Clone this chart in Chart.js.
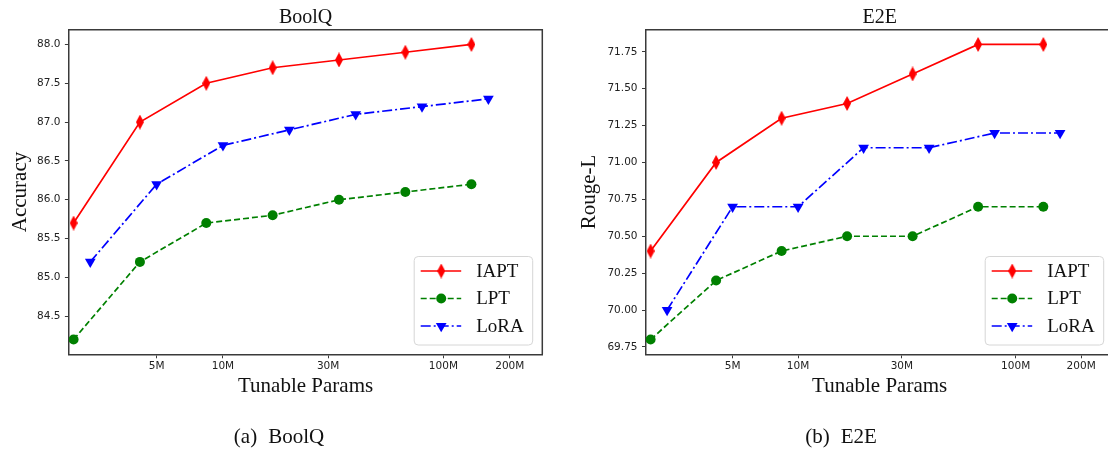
<!DOCTYPE html>
<html>
<head>
<meta charset="utf-8">
<title>BoolQ / E2E</title>
<script src="https://cdn.jsdelivr.net/npm/chart.js@4.4.1/dist/chart.umd.min.js"></script>
<style>
    html, body { margin: 0; padding: 0; background: #fff; }
    body { width: 1108px; height: 452px; position: relative; overflow: hidden; }
    canvas { position: absolute; top: 0; }
    #boolqChart { left: 0; }
    #e2eChart { left: 555px; }
    .caption {
        position: absolute;
        top: 424px;
        font: 21px "Liberation Serif", "Times New Roman", serif;
        color: #111;
        white-space: nowrap;
        transform: translateX(-50%);
    }
    .caption span + span { margin-left: 11px; }
</style>
</head>
<body>
<canvas id="boolqChart" width="555" height="452"></canvas>
<canvas id="e2eChart" width="575" height="452"></canvas>
<div class="caption" style="left:279px"><span>(a)</span><span>BoolQ</span></div>
<div class="caption" style="left:841px"><span>(b)</span><span>E2E</span></div>

<script>
// Data (tunable params)
const iaptParams = [2.1e6, 4.2e6, 8.4e6, 16.8e6, 33.6e6, 67.2e6, 134e6];
const lptParams = [2.1e6, 4.2e6, 8.4e6, 16.8e6, 33.6e6, 67.2e6, 134e6];
const loraParams = [2.5e6, 5e6, 10e6, 20e6, 40e6, 80e6, 160e6];

const boolqIAPT = [85.7, 87.0, 87.5, 87.7, 87.8, 87.9, 88.0];
const boolqLPT = [84.2, 85.2, 85.7, 85.8, 86.0, 86.1, 86.2];
const boolqLoRA = [85.2, 86.2, 86.7, 86.9, 87.1, 87.2, 87.3];

const e2eIAPT = [70.4, 71.0, 71.3, 71.4, 71.6, 71.8, 71.8];
const e2eLPT = [69.8, 70.2, 70.4, 70.5, 70.5, 70.7, 70.7];
const e2eLoRA = [70.0, 70.7, 70.7, 71.1, 71.1, 71.2, 71.2];

const xTickValues = [5e6, 1e7, 3e7, 1e8, 2e8];
const xTickLabels = ['5M', '10M', '30M', '100M', '200M'];
const boolqTicks = [84.5, 85.0, 85.5, 86.0, 86.5, 87.0, 87.5, 88.0];
const e2eTicks = [69.75, 70.0, 70.25, 70.5, 70.75, 71.0, 71.25, 71.5, 71.75];

const SERIF = '"Liberation Serif", "Times New Roman", serif';
const TICK_FONT = '"DejaVu Sans", sans-serif';
const AXIS_COLOR = '#3a3a3a';

// thin diamond marker ('d' in matplotlib)
function makeDiamond(color, w, h) {
    const c = document.createElement('canvas');
    c.width = w;
    c.height = h;
    const g = c.getContext('2d');
    g.fillStyle = color;
    g.beginPath();
    g.moveTo(w / 2, 0);
    g.lineTo(w, h / 2);
    g.lineTo(w / 2, h);
    g.lineTo(0, h / 2);
    g.closePath();
    g.fill();
    return c;
}
const redDiamond = makeDiamond('#ff0000', 8, 15);

function toPoints(xs, ys) {
    return xs.map((x, i) => ({ x: x, y: ys[i] }));
}

function makeDatasets(iapt, lpt, lora) {
    return [
        {
            label: 'IAPT', data: toPoints(iaptParams, iapt),
            borderColor: '#ff0000', backgroundColor: '#ff0000', borderWidth: 1.7,
            pointStyle: redDiamond, pointRadius: 7, marker: 'diamond'
        },
        {
            label: 'LPT', data: toPoints(lptParams, lpt),
            borderColor: '#008000', backgroundColor: '#008000', borderWidth: 1.7,
            borderDash: [6, 3], pointStyle: 'circle', pointRadius: 5, pointBorderWidth: 0, marker: 'circle'
        },
        {
            label: 'LoRA', data: toPoints(loraParams, lora),
            borderColor: '#0000ff', backgroundColor: '#0000ff', borderWidth: 1.7,
            borderDash: [10, 3, 2, 3], pointStyle: 'triangle', pointRotation: 180,
            pointRadius: 6.2, pointBorderWidth: 0, marker: 'triangle'
        }
    ];
}

function drawMarker(ctx, ds, x, y) {
    ctx.fillStyle = ds.backgroundColor;
    if (ds.marker === 'diamond') {
        ctx.drawImage(ds.pointStyle, x - ds.pointStyle.width / 2, y - ds.pointStyle.height / 2);
    } else if (ds.marker === 'circle') {
        ctx.beginPath();
        ctx.arc(x, y, ds.pointRadius, 0, Math.PI * 2);
        ctx.fill();
    } else {
        const r = ds.pointRadius;
        ctx.beginPath();
        ctx.moveTo(x, y + r);
        ctx.lineTo(x - r * Math.sin(Math.PI / 3), y - r / 2);
        ctx.lineTo(x + r * Math.sin(Math.PI / 3), y - r / 2);
        ctx.closePath();
        ctx.fill();
    }
}

// box frame + title + matplotlib-like legend
const figurePlugin = {
    id: 'figureBits',
    afterDraw(chart) {
        const { ctx, chartArea } = chart;
        const opts = chart.options.plugins.figureBits;
        ctx.save();

        // top and right spines
        ctx.strokeStyle = AXIS_COLOR;
        ctx.lineWidth = 1.5;
        ctx.beginPath();
        ctx.moveTo(chartArea.left, chartArea.top);
        ctx.lineTo(chartArea.right, chartArea.top);
        ctx.lineTo(chartArea.right, chartArea.bottom);
        ctx.stroke();

        // title
        ctx.fillStyle = '#111';
        ctx.font = '20px ' + SERIF;
        ctx.textAlign = 'center';
        ctx.textBaseline = 'alphabetic';
        ctx.fillText(opts.title, (chartArea.left + chartArea.right) / 2, 22.5);

        // legend
        const w = 118.5, h = 88.5;
        const x0 = chartArea.right - 9.6 - w;
        const y0 = chartArea.bottom - 9.3 - h;
        ctx.beginPath();
        ctx.roundRect(x0, y0, w, h, 4);
        ctx.fillStyle = 'rgba(255,255,255,0.8)';
        ctx.fill();
        ctx.strokeStyle = '#d6d6d6';
        ctx.lineWidth = 1;
        ctx.stroke();

        chart.data.datasets.forEach((ds, i) => {
            const cy = y0 + 14.5 + i * 27.5;
            ctx.strokeStyle = ds.borderColor;
            ctx.lineWidth = ds.borderWidth;
            ctx.setLineDash(ds.borderDash || []);
            ctx.beginPath();
            ctx.moveTo(x0 + 6.5, cy);
            ctx.lineTo(x0 + 47, cy);
            ctx.stroke();
            ctx.setLineDash([]);
            drawMarker(ctx, ds, x0 + 27, cy);
            ctx.fillStyle = '#111';
            ctx.font = '19px ' + SERIF;
            ctx.textAlign = 'left';
            ctx.textBaseline = 'middle';
            ctx.fillText(ds.label, x0 + 62, cy + 1);
        });
        ctx.restore();
    }
};

function buildChart(canvasId, title, yTitle, datasets, yMin, yMax, yTicks, decimals, layout) {
    const ctx = document.getElementById(canvasId);
    return new Chart(ctx, {
        type: 'line',
        data: { datasets: datasets },
        options: {
            responsive: false,
            animation: false,
            events: [],
            layout: { padding: { top: layout.top, right: layout.right, left: 0, bottom: 0 } },
            plugins: {
                legend: { display: false },
                tooltip: { enabled: false },
                figureBits: { title: title }
            },
            scales: {
                x: {
                    type: 'logarithmic',
                    min: 2.0e6,
                    max: 2.81e8,
                    bounds: 'data',
                    afterBuildTicks: axis => { axis.ticks = xTickValues.map(v => ({ value: v })); },
                    afterFit: axis => { axis.height = layout.xHeight; },
                    ticks: {
                        autoSkip: false,
                        maxRotation: 0,
                        padding: 2,
                        color: '#222',
                        font: { family: TICK_FONT, size: 10.5 },
                        callback: (value) => {
                            const idx = xTickValues.indexOf(value);
                            return idx >= 0 ? xTickLabels[idx] : '';
                        }
                    },
                    grid: { display: true, drawOnChartArea: false, drawTicks: true, tickLength: 4, color: AXIS_COLOR },
                    border: { display: true, color: AXIS_COLOR, width: 1.5 },
                    title: {
                        display: true,
                        text: 'Tunable Params',
                        color: '#111',
                        font: { family: SERIF, size: 21 },
                        padding: { top: 0, bottom: 53.4 }
                    }
                },
                y: {
                    type: 'linear',
                    min: yMin,
                    max: yMax,
                    bounds: 'data',
                    afterBuildTicks: axis => { axis.ticks = yTicks.map(v => ({ value: v })); },
                    afterFit: axis => { axis.width = layout.yWidth; },
                    ticks: {
                        padding: 4.5,
                        color: '#222',
                        font: { family: TICK_FONT, size: 10.5 },
                        callback: value => Number(value).toFixed(decimals)
                    },
                    grid: { display: true, drawOnChartArea: false, drawTicks: true, tickLength: 4, color: AXIS_COLOR },
                    border: { display: true, color: AXIS_COLOR, width: 1.5 },
                    title: {
                        display: true,
                        text: yTitle,
                        color: '#111',
                        font: { family: SERIF, size: 21 },
                        padding: { top: layout.yTitlePad, bottom: 0 }
                    }
                }
            }
        },
        plugins: [figurePlugin]
    });
}

buildChart('boolqChart', 'BoolQ', 'Accuracy',
    makeDatasets(boolqIAPT, boolqLPT, boolqLoRA),
    84.01, 88.19, boolqTicks, 1,
    { top: 29.7, right: 12.7, xHeight: 97.7, yWidth: 68.9, yTitlePad: 7.4 });

buildChart('e2eChart', 'E2E', 'Rouge-L',
    makeDatasets(e2eIAPT, e2eLPT, e2eLoRA),
    69.7, 71.9, e2eTicks, 2,
    { top: 29.7, right: 16.7, xHeight: 97.7, yWidth: 91, yTitlePad: 21.4 });
</script>
</body>
</html>
